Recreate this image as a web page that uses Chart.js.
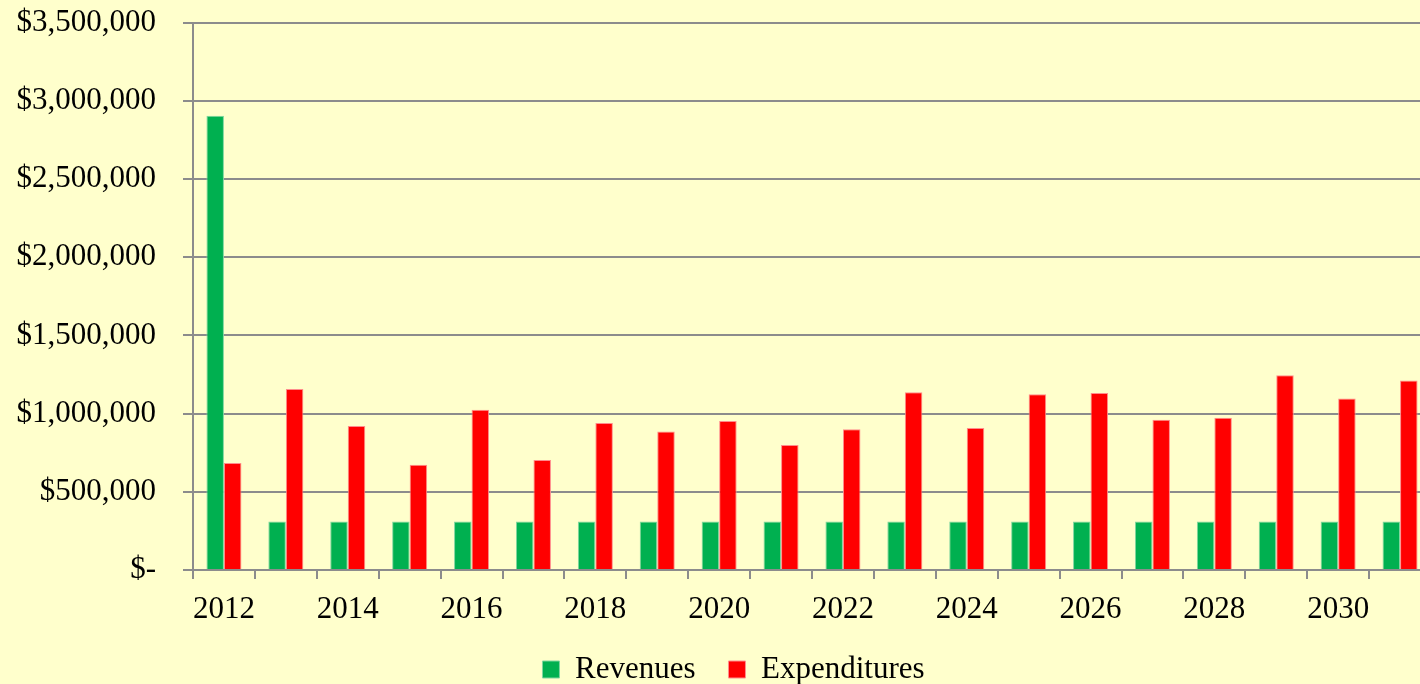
<!DOCTYPE html>
<html>
<head>
<meta charset="utf-8">
<script src="https://cdn.jsdelivr.net/npm/chart.js@4.4.1/dist/chart.umd.min.js"></script>
<style>
  html, body { margin: 0; padding: 0; overflow: hidden; background: #FFFFCC; }
  #wrap { position: absolute; left: 0; top: -23px; width: 1431px; height: 718px; }
</style>
</head>
<body>
<div id="wrap"><canvas id="budgetChart"></canvas></div>
<script>
const years = ['2012', '2013', '2014', '2015', '2016', '2017', '2018', '2019', '2020', '2021',
    '2022', '2023', '2024', '2025', '2026', '2027', '2028', '2029', '2030', '2031'];

const revenues = [2904000, 310000, 310000, 310000, 310000, 310000, 310000, 310000, 310000, 310000,
    310000, 310000, 310000, 310000, 310000, 310000, 310000, 310000, 310000, 310000];

const expenditures = [684000, 1158000, 921000, 673000, 1024000, 703000, 940000, 885000, 953000, 799000,
    900000, 1137000, 908000, 1124000, 1131000, 960000, 974000, 1246000, 1096000, 1212000];

const yTicks = [0, 500000, 1000000, 1500000, 2000000, 2500000, 3000000, 3500000];

const fontFamily = "'Liberation Serif', 'Times New Roman', serif";
const gray = '#8c8c8c';

Chart.defaults.font.family = fontFamily;
Chart.defaults.font.size = 31;
Chart.defaults.color = '#000000';

const ctx = document.getElementById('budgetChart').getContext('2d');

function money(v) {
    if (v === 0) return '$-';
    return '$' + v.toLocaleString('en-US');
}

// nudge the legend a bit to the right, like the original sheet
const legendShift = {
    id: 'legendShift',
    afterLayout: function (chart) {
        chart.legend.left += 18;
        chart.legend.right += 18;
    }
};

const budgetChart = new Chart(ctx, {
    type: 'bar',
    data: {
        labels: years,
        datasets: [
            {
                label: 'Revenues',
                data: revenues,
                backgroundColor: '#00B050',
                borderColor: '#7fd6a0',
                borderWidth: 1
            },
            {
                label: 'Expenditures',
                data: expenditures,
                backgroundColor: '#FF0000',
                borderColor: '#ff8c8c',
                borderWidth: 1
            }
        ]
    },
    options: {
        responsive: true,
        maintainAspectRatio: false,
        animation: false,
        categoryPercentage: 0.566,
        barPercentage: 1.0,
        layout: {
            padding: { left: 0, top: 0, right: 0, bottom: 0 }
        },
        scales: {
            x: {
                offset: true,
                grid: {
                    offset: true,
                    drawOnChartArea: false,
                    drawTicks: true,
                    tickLength: 9,
                    color: gray,
                    lineWidth: 2
                },
                border: { display: true, color: gray, width: 2 },
                ticks: {
                    autoSkip: false,
                    maxRotation: 0,
                    padding: 12,
                    callback: function (value, index) {
                        return index % 2 === 0 ? years[index] : '';
                    }
                },
                afterFit: function (scale) {
                    scale.height = 51;
                }
            },
            y: {
                min: 0,
                max: 3500000,
                afterBuildTicks: function (scale) {
                    scale.ticks = yTicks.map(function (v) { return { value: v }; });
                },
                grid: {
                    color: gray,
                    lineWidth: 2,
                    tickLength: 10
                },
                border: { display: true, color: gray, width: 2 },
                ticks: {
                    padding: 27,
                    callback: function (value) {
                        return money(value);
                    }
                },
                afterFit: function (scale) {
                    scale.width = 193;
                }
            }
        },
        plugins: {
            legend: {
                position: 'bottom',
                labels: {
                    boxWidth: 17,
                    boxHeight: 17,
                    padding: 33,
                    font: { size: 31, family: fontFamily }
                }
            },
            tooltip: { enabled: false }
        }
    },
    plugins: [legendShift]
});
</script>
</body>
</html>
